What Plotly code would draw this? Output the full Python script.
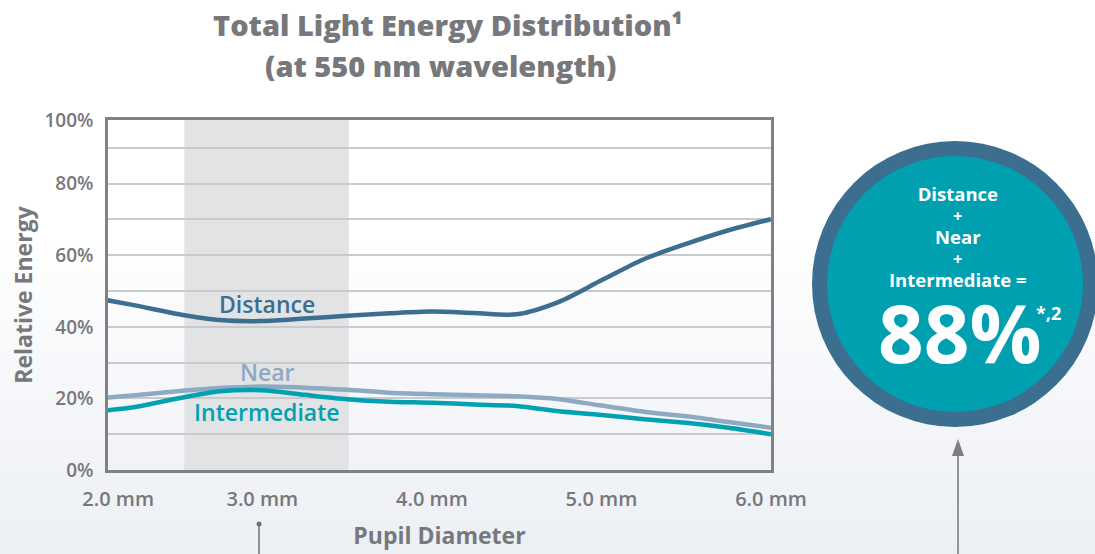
import plotly.graph_objects as go

# ---- data ----
pupil_mm = [2.0, 2.25, 2.5, 2.75, 3.0, 3.25, 3.5, 3.75, 4.0, 4.25, 4.5, 4.75, 5.0, 5.25, 5.5, 5.75, 6.0]
distance = [48.2, 46.0, 43.6, 41.9, 41.6, 42.3, 43.1, 43.8, 44.3, 43.9, 43.5, 47.0, 53.0, 58.9, 63.2, 67.0, 70.1]
near = [19.9, 20.9, 22.0, 22.9, 23.3, 23.0, 22.4, 21.6, 21.2, 20.9, 20.6, 19.8, 18.0, 16.3, 15.0, 13.4, 11.8]
intermediate = [16.3, 17.6, 20.0, 22.0, 22.3, 21.0, 19.8, 19.1, 18.8, 18.3, 17.9, 16.4, 15.4, 14.2, 13.2, 11.8, 10.0]
x_tick_vals = [2.15, 3.0, 4.0, 5.0, 6.0]
x_tick_text = ["2.0 mm", "3.0 mm", "4.0 mm", "5.0 mm", "6.0 mm"]
y_tick_vals = [0, 20, 40, 60, 80, 97.8]
y_tick_text = ["0%", "20%", "40%", "60%", "80%", "100%"]
band_mm = [2.54, 3.51]
total_text = "88%"
total_note = "*,2"

C_DIST = "#3b6e8f"
C_NEAR = "#8eaac2"
C_INT = "#00a1b1"
C_GRAY = "#77787c"

W, H = 1095, 554
L, R, T, B = 108, 771, 120, 470


def px(x):
    return (x - L) / (R - L)


def py(y):
    return (B - y) / (B - T)


fig = go.Figure()
for name, vals, col in [("Distance", distance, C_DIST), ("Near", near, C_NEAR),
                        ("Intermediate", intermediate, C_INT)]:
    fig.add_trace(go.Scatter(x=pupil_mm, y=vals, mode="lines", name=name,
                             line=dict(color=col, width=4.5, shape="spline", smoothing=0.8),
                             showlegend=False, hoverinfo="skip"))

shapes = []
# background gradient
n = 60
y_start = 230
top_rgb = (255, 255, 255)
bot_rgb = (236, 239, 244)
for i in range(n):
    y0 = y_start + (H - y_start) * i / n
    y1 = y_start + (H - y_start) * (i + 1) / n + 1
    t = (i + 0.5) / n
    c = tuple(round(top_rgb[k] + (bot_rgb[k] - top_rgb[k]) * t) for k in range(3))
    shapes.append(dict(type="rect", xref="paper", yref="paper", x0=px(0), x1=px(W),
                       y0=py(y1), y1=py(y0), fillcolor="rgb(%d,%d,%d)" % c,
                       line=dict(width=0), layer="below"))
# gray band
shapes.append(dict(type="rect", xref="x", yref="paper", x0=band_mm[0], x1=band_mm[1], y0=0, y1=1,
                   fillcolor="#e2e3e5", line=dict(width=0), layer="below"))
# circle
cx, cy = 955, 284
ro, ri = 143, 128
shapes.append(dict(type="circle", xref="paper", yref="paper", x0=px(cx - ro), x1=px(cx + ro),
                   y0=py(cy + ro), y1=py(cy - ro), fillcolor=C_DIST, line=dict(width=0), layer="above"))
shapes.append(dict(type="circle", xref="paper", yref="paper", x0=px(cx - ri), x1=px(cx + ri),
                   y0=py(cy + ri), y1=py(cy - ri), fillcolor="#00a0b0", line=dict(width=0), layer="above"))
# left pointer line with dot
shapes.append(dict(type="line", xref="paper", yref="paper", x0=px(259), x1=px(259), y0=py(524), y1=py(560),
                   line=dict(color="#6f7074", width=1.5), layer="above"))
shapes.append(dict(type="circle", xref="paper", yref="paper", x0=px(256.5), x1=px(261.5), y0=py(526.5), y1=py(521.5),
                   fillcolor="#6f7074", line=dict(width=0), layer="above"))
# arrow to circle (shaft + head)
ax_ = 958
shapes.append(dict(type="line", xref="paper", yref="paper", x0=px(ax_), x1=px(ax_), y0=py(452), y1=py(560),
                   line=dict(color="#8a8b8f", width=1.8), layer="above"))
shapes.append(dict(type="path", xref="paper", yref="paper",
                   path="M %f %f L %f %f L %f %f Z" % (px(ax_), py(439), px(ax_ - 6), py(456), px(ax_ + 6), py(456)),
                   fillcolor="#7d7e82", line=dict(width=0), layer="above"))

annotations = []
font = "Open Sans, Noto Sans, sans-serif"
# titles
annotations.append(dict(text="Total Light Energy Distribution¹", x=px(448), y=py(24), xref="paper", yref="paper",
                        showarrow=False, xanchor="center", yanchor="middle",
                        font=dict(family=font, size=29, color=C_GRAY, weight=800)))
annotations.append(dict(text="(at 550 nm wavelength)", x=px(440), y=py(66), xref="paper", yref="paper",
                        showarrow=False, xanchor="center", yanchor="middle",
                        font=dict(family=font, size=29, color=C_GRAY, weight=800)))
# curve labels
for txt, yv, col in [("Distance", 46.3, C_DIST), ("Near", 27.3, C_NEAR), ("Intermediate", 16.1, C_INT)]:
    annotations.append(dict(text=txt, x=3.03, y=yv, xref="x", yref="y", showarrow=False,
                            xanchor="center", yanchor="middle",
                            font=dict(family=font, size=23, color=col, weight=600)))
# circle text (one block)
big = '<span style="font-size:18.5px">%s</span>'
circle_lines = [big % "Distance", "+", big % "Near", "+", big % "Intermediate ="]
annotations.append(dict(text="<br>".join(circle_lines), x=px(958), y=py(236.5), xref="paper", yref="paper",
                        showarrow=False, xanchor="center", yanchor="middle", borderpad=0,
                        font=dict(family=font, size=16.5, color="white", weight=700)))
annotations.append(dict(text=total_text, x=px(960), y=py(331), xref="paper", yref="paper",
                        showarrow=False, xanchor="center", yanchor="middle", borderpad=0,
                        font=dict(family=font, size=80, color="white", weight=700)))
annotations.append(dict(text=total_note, x=px(1035), y=py(313), xref="paper", yref="paper",
                        showarrow=False, xanchor="left", yanchor="middle", borderpad=0,
                        font=dict(family=font, size=18, color="white", weight=700)))

fig.update_layout(
    width=W, height=H,
    margin=dict(l=L, r=W - R, t=T, b=H - B, pad=0, autoexpand=False),
    paper_bgcolor="white", plot_bgcolor="rgba(0,0,0,0)",
    shapes=shapes, annotations=annotations,
    font=dict(family=font, color=C_GRAY),
    xaxis=dict(range=[2.09, 6.0], tickvals=x_tick_vals, ticktext=x_tick_text, showgrid=False,
               zeroline=False, showline=True, linecolor="#808184", linewidth=2.5, mirror=True,
               ticks="", ticklabelstandoff=9, automargin=False,
               tickfont=dict(family=font, size=20, color=C_GRAY, weight=600),
               title=dict(text="Pupil Diameter", font=dict(family=font, size=23, color=C_GRAY, weight=700),
                          standoff=18)),
    yaxis=dict(range=[0, 97.8], tickvals=y_tick_vals, ticktext=y_tick_text, showgrid=True,
               gridcolor="#c9cacc", gridwidth=1.5, zeroline=False, showline=True, automargin=False,
               linecolor="#808184", linewidth=2.5, mirror=True, ticks="", ticklabelstandoff=8,
               tickfont=dict(family=font, size=19, color=C_GRAY, weight=600),
               minor=dict(tickvals=[10, 30, 50, 70, 90], showgrid=True, gridcolor="#c9cacc", gridwidth=1.5),
               title=dict(text="Relative Energy", font=dict(family=font, size=23, color=C_GRAY, weight=700),
                          standoff=6)),
)

fig.write_html("out.html", config={"displayModeBar": False},
               post_script="document.body.style.margin='0';document.body.style.overflow='hidden';")
